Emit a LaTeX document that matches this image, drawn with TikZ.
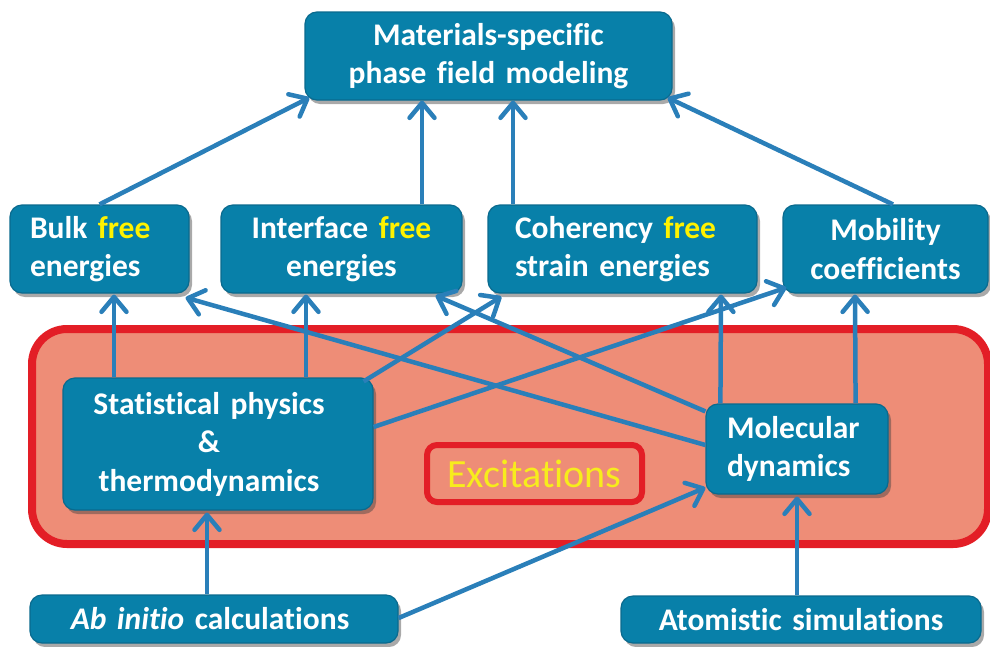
\documentclass[tikz,border=0pt]{standalone}
\usepackage{fontspec}
\setmainfont{Carlito}[Ligatures=NoCommon]
\usetikzlibrary{arrows.meta,shadows,calc}
\definecolor{boxblue}{HTML}{0880A9}
\definecolor{boxedge}{HTML}{0A6A8E}
\definecolor{arrblue}{HTML}{2A7FB9}
\definecolor{redline}{HTML}{E31E26}
\definecolor{salmon}{HTML}{EE8D77}
\definecolor{freeyel}{HTML}{FFF200}
\definecolor{excyel}{HTML}{F7EC1C}
\newcommand{\fr}{\textcolor{freeyel}{free}}
\begin{document}
\begin{tikzpicture}[x=1pt,y=-1pt,
  blk/.style={draw=boxedge, line width=1.2pt, fill=boxblue, rounded corners=12pt,
    text=white, font=\bfseries\fontsize{31.5}{38.5}\selectfont,
    drop shadow={shadow xshift=3pt, shadow yshift=-4pt, opacity=0.45, fill=black!75},
    inner ysep=0pt, anchor=center},
  arr/.style={draw=arrblue, line width=4.5pt,
    -{Straight Barb[length=15pt,width=25pt,round]}}]
\useasboundingbox (0,0) rectangle (990,646);

% background region
\node[draw=redline, line width=8pt, fill=salmon, rounded corners=35pt,
  minimum width=956pt, minimum height=215pt, inner sep=0pt] (region) at (510,436.5) {};
\node[draw=redline, line width=6pt, fill=salmon, rounded corners=10pt,
  minimum width=215pt, minimum height=57pt, inner sep=0pt, text=excyel,
  font=\fontsize{40}{48}\selectfont] (exc) at (534.5,473.5) {Excitations};

% boxes
\node[blk, minimum width=367pt, minimum height=88pt, text width=347pt, inner xsep=10pt, align=center]
  (top) at (488.5,56) {Materials-specific\\phase field modeling};
\node[blk, minimum width=179pt, minimum height=88pt, text width=139pt, inner xsep=20pt, align=left]
  (bulk) at (99.5,249) {Bulk \fr\\energies};
\node[blk, minimum width=241pt, minimum height=88pt, text width=221pt, inner xsep=10pt, align=center]
  (inter) at (341.5,249) {Interface \fr\\energies};
\node[blk, minimum width=269pt, minimum height=88pt, text width=215pt, inner xsep=27pt, align=left]
  (coh) at (622.5,249) {Coherency \fr\\strain energies};
\node[blk, minimum width=205pt, minimum height=88pt, text width=185pt, inner xsep=10pt, align=center]
  (mob) at (885.5,249) {Mobility\\coefficients};
\node[blk, minimum width=310pt, minimum height=132pt, text width=290pt, inner xsep=10pt, align=center]
  (stat) at (218,444) {Statistical physics\kern18pt\\\&\kern18pt\\thermodynamics\kern18pt};
\node[blk, minimum width=182pt, minimum height=90pt, text width=140pt, inner xsep=21pt, align=left]
  (mol) at (797,449) {Molecular\\dynamics};
\node[blk, minimum width=368pt, minimum height=48pt, text width=348pt, inner xsep=10pt, align=center]
  (abin) at (214,619) {\textit{Ab initio} calculations\kern8pt};
\node[blk, minimum width=360pt, minimum height=47pt, text width=340pt, inner xsep=10pt, align=center]
  (atom) at (801,619.5) {Atomistic simulations};

% connectors
\draw[arr] (bulk.north) -- ([xshift=5pt,yshift=3pt]top.south west);
\draw[arr] ([xshift=80.5pt]inter.north) -- ([xshift=-66.5pt]top.south);
\draw[arr] ([xshift=-109.5pt]coh.north) -- ([xshift=24.5pt]top.south);
\draw[arr] ([xshift=7.5pt]mob.north) -- ([xshift=-5pt,yshift=3pt]top.south east);
\draw[arr] ([xshift=-104pt]stat.north) -- ([xshift=14.5pt,yshift=-1pt]bulk.south);
\draw[arr] ([xshift=88pt]stat.north) -- ([xshift=-35.5pt,yshift=-1pt]inter.south);
\draw[arr] ([xshift=-10pt,yshift=-4pt]stat.north east) -- ([xshift=14pt,yshift=-3pt]coh.south west);
\draw[arr] ([yshift=17pt]stat.east) -- ([xshift=4pt,yshift=6pt]mob.south west);
\draw[arr] ([yshift=4pt]mol.west) -- ([xshift=-4pt,yshift=-4pt]bulk.south east);
\draw[arr] ([yshift=-8pt]mol.north west) -- ([xshift=-27pt,yshift=-2pt]inter.south east);
\draw[arr] ([xshift=15pt]mol.north west) -- ([xshift=98.5pt,yshift=-1pt]coh.south);
\draw[arr] ([xshift=-33pt]mol.north east) -- ([xshift=-30.5pt,yshift=-1pt]mob.south);
\draw[arr] ([xshift=-7pt]abin.north) -- ([xshift=-11pt,yshift=-2pt]stat.south);
\draw[arr] ([yshift=1pt]abin.east) -- ([yshift=7pt]mol.south west);
\draw[arr] ([xshift=-4pt]atom.north) -- ([yshift=-2pt]mol.south);
\end{tikzpicture}
\end{document}
